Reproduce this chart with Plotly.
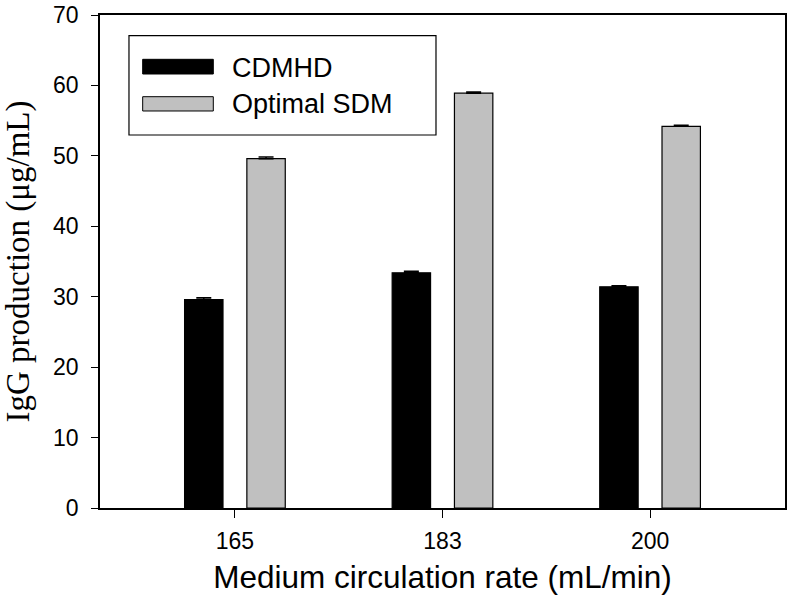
import plotly.graph_objects as go

categories = ["165", "183", "200"]
cdmhd = [29.6, 33.4, 31.4]
cdmhd_err = [0.25, 0.2, 0.15]
sdm = [49.6, 58.9, 54.2]
sdm_err = [0.25, 0.15, 0.15]
series_names = ["CDMHD", "Optimal SDM"]
y_ticks = [0, 10, 20, 30, 40, 50, 60, 70]

pos = list(range(len(categories)))
bar_w = 0.185

fig = go.Figure()
fig.add_trace(go.Bar(
    x=pos, y=cdmhd, width=bar_w, offset=-0.2425, name=series_names[0],
    marker=dict(color="#000000", line=dict(color="#000000", width=1.2)),
    error_y=dict(type="data", array=cdmhd_err, arrayminus=[0]*3, color="#000000", thickness=1.5, width=7.5),
))
fig.add_trace(go.Bar(
    x=pos, y=sdm, width=bar_w, offset=0.0575, name=series_names[1],
    marker=dict(color="#c0c0c0", line=dict(color="#000000", width=1.2)),
    error_y=dict(type="data", array=sdm_err, arrayminus=[0]*3, color="#000000", thickness=1.5, width=7.5),
))

# custom legend (paper coords = plot area)
shapes = [
    dict(type="rect", xref="paper", yref="paper", x0=0.0423, x1=0.4905, y0=0.7566, y1=0.958,
         line=dict(color="#000000", width=1.2), fillcolor="white"),
    dict(type="rect", xref="paper", yref="paper", x0=0.0623, x1=0.1654, y0=0.8803, y1=0.9101,
         line=dict(color="#000000", width=1), fillcolor="#000000"),
    dict(type="rect", xref="paper", yref="paper", x0=0.0623, x1=0.1654, y0=0.8053, y1=0.8343,
         line=dict(color="#000000", width=1), fillcolor="#c0c0c0"),
]
annotations = [
    dict(xref="paper", yref="paper", x=0.1898, y=0.8935, text=series_names[0], showarrow=False,
         xanchor="left", yanchor="middle", font=dict(family="Liberation Sans, Arial", size=27, color="#000")),
    dict(xref="paper", yref="paper", x=0.1898, y=0.8195, text=series_names[1], showarrow=False,
         xanchor="left", yanchor="middle", font=dict(family="Liberation Sans, Arial", size=27, color="#000")),
]

fig.update_layout(
    width=787, height=604,
    margin=dict(l=100, r=2, t=15, b=96, autoexpand=False),
    paper_bgcolor="white", plot_bgcolor="white",
    barmode="overlay", showlegend=False,
    shapes=shapes, annotations=annotations,
    font=dict(family="Liberation Sans, Arial", color="#000"),
)
fig.update_xaxes(
    range=[-0.65, 2.65], tickvals=pos, ticktext=categories, automargin=False,
    showline=True, linecolor="#000", linewidth=1.5, mirror=True,
    ticks="outside", ticklen=8, tickwidth=1.2, tickcolor="#000",
    showgrid=False, zeroline=False, ticklabelstandoff=4, ticklabeloverflow="allow",
    tickfont=dict(family="Liberation Sans, Arial", size=23),
    title=dict(text="Medium circulation rate (mL/min)", font=dict(family="Liberation Sans, Arial", size=31.5), standoff=13),
)
fig.update_yaxes(
    range=[0, 70], tickvals=y_ticks, automargin=False,
    showline=True, linecolor="#000", linewidth=1.5, mirror=True,
    ticks="outside", ticklen=7, tickwidth=1.2, tickcolor="#000",
    showgrid=False, zeroline=False, ticklabelstandoff=8, ticklabeloverflow="allow",
    tickfont=dict(family="Liberation Sans, Arial", size=23),
    title=dict(text="IgG production (μg/mL)", font=dict(family="Liberation Serif, Times New Roman", size=33), standoff=18),
)

fig.write_html(
    "out.html",
    config={"displayModeBar": False},
    post_script="document.body.style.margin='0';document.body.style.overflow='hidden';",
)
